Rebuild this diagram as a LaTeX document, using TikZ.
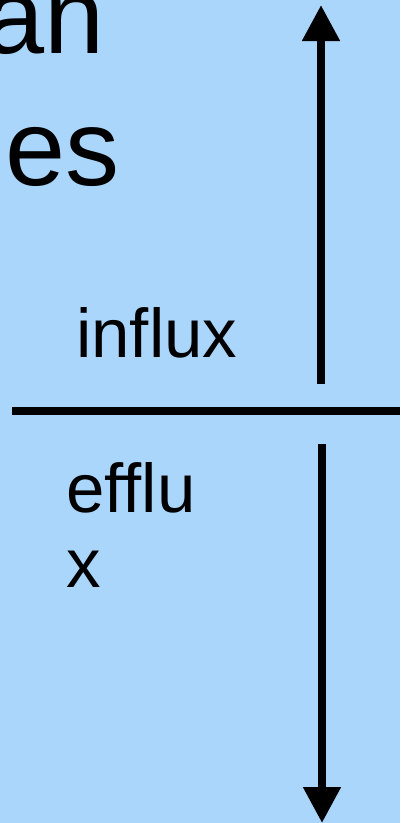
\documentclass[tikz,border=0pt]{standalone}
\usepackage{fontspec}
\setmainfont{Liberation Sans}
\usetikzlibrary{arrows.meta}
\definecolor{paneblue}{RGB}{170,214,252}
\begin{document}
\begin{tikzpicture}[x=1pt,y=-1pt,
  flux/.style={line width=8pt,-{Triangle[length=36pt,width=36pt]}},
  lbl/.style={inner sep=0pt,font=\fontsize{69}{75}\selectfont},
  big/.style={inner sep=0pt,font=\fontsize{108}{132}\selectfont}]
\fill[paneblue] (0,0) rectangle (400,823);
\useasboundingbox (0,0) rectangle (400,823);
\clip (0,0) rectangle (400,823);
\node[big,anchor=base east] (an) at (105,53) {an};
\node[big,anchor=base east] (es) at (120,185) {es};
\node[lbl,anchor=base west] (influx) at (76,357) {influx};
\node[lbl,anchor=north west,align=left] (efflux) at (66,462) {efflu\\x};
\coordinate (mleft) at (12,411);
\coordinate (mright) at (400,411);
\draw[line width=8pt] (mleft) -- (mright);
\coordinate (inbase) at (321,384);
\coordinate (intip) at (321,5);
\draw[flux] (inbase) -- (intip);
\coordinate (outbase) at (322,444);
\coordinate (outtip) at (322,823);
\draw[flux] (outbase) -- (outtip);
\end{tikzpicture}
\end{document}
